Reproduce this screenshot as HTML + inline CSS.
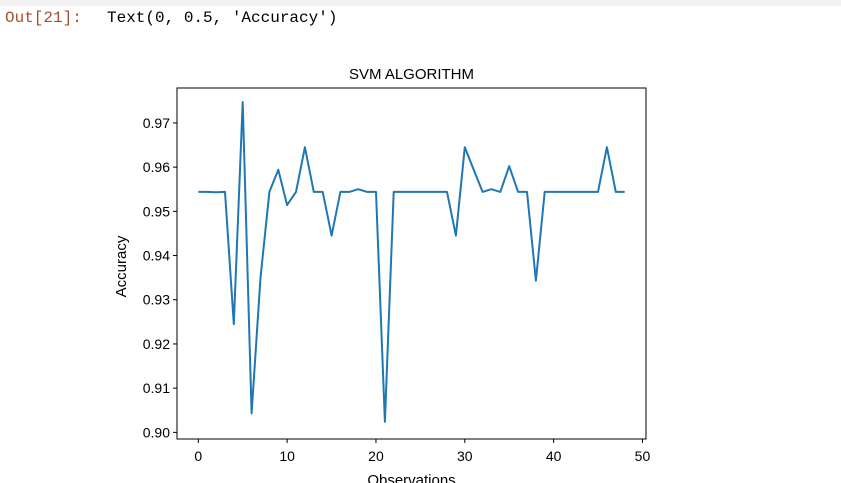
<!DOCTYPE html>
<html><head><meta charset="utf-8"><style>
body{margin:0;background:#fff;width:841px;height:483px;overflow:hidden;position:relative;font-family:"Liberation Sans","DejaVu Sans",sans-serif}
.out{position:absolute;left:5px;top:9px;font-family:"Liberation Mono","DejaVu Sans Mono",monospace;font-size:16px;color:#a0522d}
.txt{position:absolute;left:107px;top:9px;font-family:"Liberation Mono","DejaVu Sans Mono",monospace;font-size:16px;color:#000}
</style></head><body>
<div style="position:absolute;left:0;top:0;width:841px;height:6px;background:#f2f2f2"></div>
<div class="out">Out[21]:</div>
<div class="txt">Text(0, 0.5, 'Accuracy')</div>
<svg id="chart" width="841" height="483" style="position:absolute;left:0;top:0"></svg>
<script>
const xTicks=[0,10,20,30,40,50];
const yTicks=[0.90,0.91,0.92,0.93,0.94,0.95,0.96,0.97];
const accuracy=[0.9544,0.9544,0.9543,0.9544,0.9245,0.9747,0.9043,0.9350,0.9544,0.9594,0.9514,0.9544,0.9645,0.9544,0.9544,0.9445,0.9544,0.9544,0.9550,0.9544,0.9544,0.9024,0.9544,0.9544,0.9544,0.9544,0.9544,0.9544,0.9544,0.9445,0.9645,0.9594,0.9544,0.9550,0.9544,0.9602,0.9544,0.9544,0.9343,0.9544,0.9544,0.9544,0.9544,0.9544,0.9544,0.9544,0.9645,0.9544,0.9544];
const L=177,R=646,T=88,B=439;
const xmin=-2.4,xmax=50.4,ymin=0.8985,ymax=0.9779;
const sx=v=>L+(v-xmin)/(xmax-xmin)*(R-L);
const sy=v=>B-(v-ymin)/(ymax-ymin)*(B-T);
const svg=document.getElementById('chart');
const NS='http://www.w3.org/2000/svg';
function mk(tag,attrs,text){const e=document.createElementNS(NS,tag);for(const k in attrs)e.setAttribute(k,attrs[k]);if(text!=null)e.textContent=text;svg.appendChild(e);return e;}
xTicks.forEach(t=>{
const l=mk('line',{x1:sx(t),x2:sx(t),y1:B,y2:B+4,stroke:'#000'});


const tx=mk('text',{x:sx(t),y:B+22,'text-anchor':'middle','font-size':'14','fill':'#000'},String(t));


});
yTicks.forEach(t=>{
const l=mk('line',{x1:L-4,x2:L,y1:sy(t),y2:sy(t),stroke:'#000'});


const tx=mk('text',{x:L-7,y:sy(t)+5,'text-anchor':'end','font-size':'14','fill':'#000'},t.toFixed(2));


});
const d=accuracy.map((v,i)=>(i?'L':'M')+sx(i).toFixed(1)+','+sy(v).toFixed(1)).join('');
const p=mk('path',{d:d,fill:'none',stroke:'#1f77b4','stroke-width':'2','stroke-linejoin':'round'});


const fr=mk('rect',{x:L,y:T,width:R-L,height:B-T,fill:'none',stroke:'#000','stroke-width':'1'});


const ti=mk('text',{x:(L+R)/2,y:T-9,'text-anchor':'middle','font-size':'15'},'SVM ALGORITHM');


const xl=mk('text',{x:(L+R)/2,y:B+46,'text-anchor':'middle','font-size':'15'},'Observations');


const yl=mk('text',{x:0,y:0,'text-anchor':'middle','font-size':'15',transform:'translate(126,'+((T+B)/2+3)+') rotate(-90)'},'Accuracy');


</script>
</body></html>
